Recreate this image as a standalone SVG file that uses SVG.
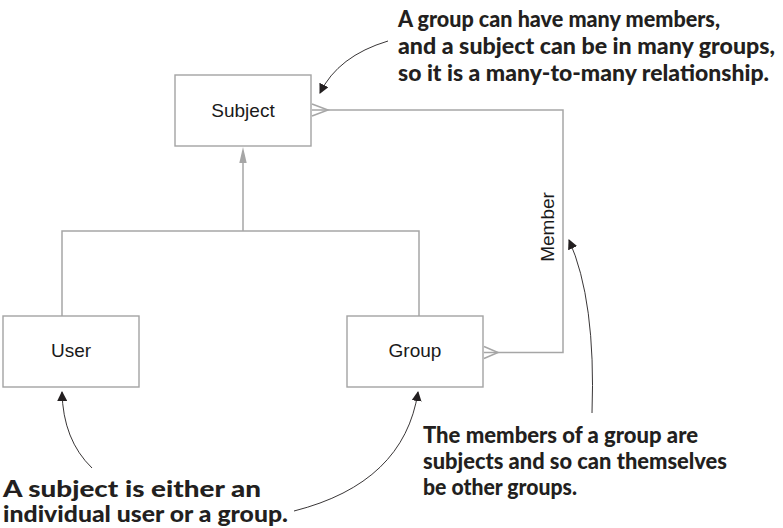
<svg xmlns="http://www.w3.org/2000/svg" width="783" height="528" viewBox="0 0 783 528">
  <defs>
    <style>
      .box { fill: #ffffff; stroke: #a3a3a3; stroke-width: 1.4; }
      .label { font-family: "Liberation Sans", Arial, sans-serif; font-size: 19px; fill: #1a1a1a; }
      .conn { fill: none; stroke: #a6a6a6; stroke-width: 1.5; }
      .note { font-family: Lato, "Open Sans", sans-serif; font-weight: 900; font-size: 22px; fill: #231f20; }
      .callout { fill: none; stroke: #231f20; stroke-width: 0.9; }
    </style>
    <marker id="blackhead" viewBox="0 0 10 10" refX="9" refY="5" markerWidth="10" markerHeight="10" markerUnits="userSpaceOnUse" orient="auto">
      <path d="M0,0 L10,5 L0,10 z" fill="#231f20"/>
    </marker>
  </defs>

  <g id="connectors">
    <!-- inheritance -->
    <polyline class="conn" points="62,316 62,231 419,231 419,316"/>
    <line class="conn" x1="243" y1="231" x2="243" y2="160"/>
    <path d="M243,147 L239.3,163 L246.7,163 z" fill="#a6a6a6"/>
    <!-- member relationship -->
    <polyline class="conn" points="484,352.5 563,352.5 563,110 312,110"/>
    <polyline class="conn" points="312,104 328,110 312,116"/>
    <polyline class="conn" points="484,346.5 498,352.5 484,358.5"/>
    <!-- callout arrows -->
    <path class="callout" d="M388,41 Q338,56 320,93" marker-end="url(#blackhead)"/>
    <path class="callout" d="M92,468 Q63,440 62,392" marker-end="url(#blackhead)"/>
    <path class="callout" d="M294,511 Q404,483 418,392" marker-end="url(#blackhead)"/>
    <path class="callout" d="M592,413 Q596,300 569,240" marker-end="url(#blackhead)"/>
  </g>

  <g id="subject">
    <rect class="box" x="175" y="75" width="136" height="71"/>
    <text class="label" x="243" y="117" text-anchor="middle">Subject</text>
  </g>

  <g id="user">
    <rect class="box" x="3" y="316" width="136" height="71"/>
    <text class="label" x="71" y="357" text-anchor="middle">User</text>
  </g>

  <g id="group">
    <rect class="box" x="347" y="316" width="136" height="71"/>
    <text class="label" x="415" y="357" text-anchor="middle">Group</text>
  </g>

  <g id="member-label">
    <text class="label" transform="translate(554,227) rotate(-90)" text-anchor="middle">Member</text>
  </g>

  <g id="note-many-to-many">
    <text class="note" x="398" y="27" textLength="322" lengthAdjust="spacingAndGlyphs">A group can have many members,</text>
    <text class="note" x="398" y="54" textLength="377" lengthAdjust="spacingAndGlyphs">and a subject can be in many groups,</text>
    <text class="note" x="398" y="81" textLength="371" lengthAdjust="spacingAndGlyphs">so it is a many-to-many relationship.</text>
  </g>

  <g id="note-members">
    <text class="note" x="423" y="443" textLength="275" lengthAdjust="spacingAndGlyphs">The members of a group are</text>
    <text class="note" x="423" y="469" textLength="304" lengthAdjust="spacingAndGlyphs">subjects and so can themselves</text>
    <text class="note" x="423" y="495" textLength="154" lengthAdjust="spacingAndGlyphs">be other groups.</text>
  </g>

  <g id="note-subject">
    <text class="note" x="3" y="497" textLength="258" lengthAdjust="spacingAndGlyphs">A subject is either an</text>
    <text class="note" x="3" y="522" textLength="285" lengthAdjust="spacingAndGlyphs">individual user or a group.</text>
  </g>
</svg>
